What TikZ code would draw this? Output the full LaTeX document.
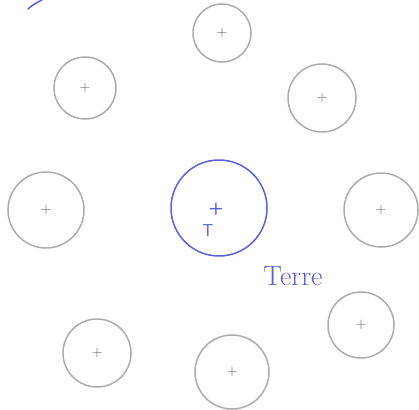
\documentclass[tikz,border=0pt]{standalone}
\usetikzlibrary{positioning}
\begin{document}
\begin{tikzpicture}[x=1pt,y=-1pt,font=\LARGE]
\definecolor{cearth}{RGB}{88,96,224}\definecolor{csat}{RGB}{172,172,172}
\tikzset{sat/.style={draw=csat,line width=1.5pt,circle,inner sep=0pt},
  satplus/.style={text=csat!55!black,font=\Large\sffamily,inner sep=0pt}}
\useasboundingbox (0,0) rectangle (419,409);
% ===== Earth in the middle =====
\node[draw=cearth,line width=1.5pt,circle,inner sep=0pt,minimum size=96pt] (terre) at (219,208) {};
\node[cearth,font=\LARGE\sffamily\bfseries,inner sep=0pt] (tplus) at (216,209) {+};
\node[cearth,font=\LARGE\sffamily,inner sep=0pt] (tletter) at (208,231) {T};
\node[cearth,font=\fontsize{28}{30}\selectfont,inner sep=0pt] (tname) at (293,276) {Terre};
% stray stroke, top left corner
\draw[cearth,line width=1.5pt,line cap=round] (28,9) to[bend left=8] (42,0);
% ===== the eight bodies around it =====
\foreach \name/\x/\y/\r in {n/222/33/29, nw/85/88/31, ne/322/98/34, w/46/210/38,
  e/381/210/37, sw/97/353/34, s/232/372/37, se/361/325/33}{
  \node[sat,minimum size=2*\r pt] (\name) at (\x,\y) {};
  \node[satplus] (\name plus) at (\name) {+};}
\end{tikzpicture}
\end{document}
